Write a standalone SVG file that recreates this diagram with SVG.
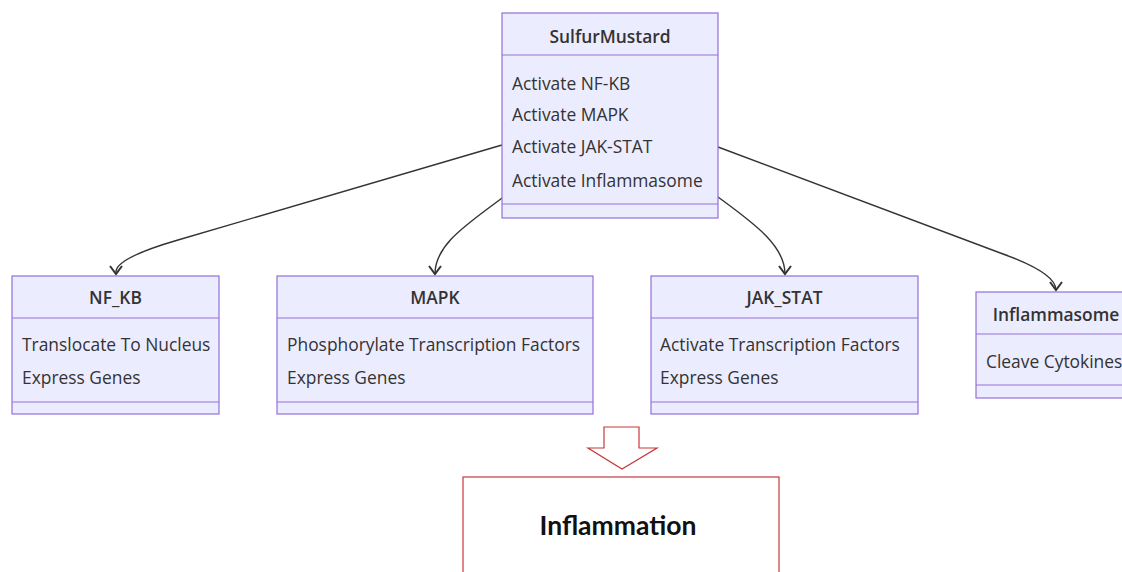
<svg xmlns="http://www.w3.org/2000/svg" width="1122" height="572" viewBox="0 0 1122 572">
<style>
.box{fill:#ECECFF;stroke:#9370DB;stroke-width:1.2}
.div{stroke:#9370DB;stroke-width:1.2;fill:none}
.t{font-family:"Open Sans","DejaVu Sans",sans-serif;font-size:17.4px;fill:#333}
.title{font-weight:600;text-anchor:middle}
.edge{fill:none;stroke:#333;stroke-width:1.4}
.red{fill:#fff;stroke:#C8373A;stroke-width:1.2}
</style>
<rect width="1122" height="572" fill="#fff"/>
<g id="connectors">
<path class="edge" d="M502,145 L178,240 Q116,258 116,272"/>
<path class="edge" d="M502,198 C468,224 435,244 435,274"/>
<path class="edge" d="M718,197 C752,222 785,245 785,274"/>
<path class="edge" d="M718,147 L1003,254 Q1056,273 1056,290"/>
<path d="M110,266 L116,274 L122,266 M429,266 L435,274 L441,266 M779,266 L785,274 L791,266 M1050,282 L1056,290 L1062,282" fill="none" stroke="#333" stroke-width="2"/>
</g>
<g id="SulfurMustard">
<rect class="box" x="502" y="13" width="216" height="205"/>
<line class="div" x1="502" y1="55" x2="718" y2="55"/>
<line class="div" x1="502" y1="204" x2="718" y2="204"/>
<text class="t title" x="610" y="43">SulfurMustard</text>
<text class="t" x="512" y="90">Activate NF-KB</text>
<text class="t" x="512" y="121">Activate MAPK</text>
<text class="t" x="512" y="153">Activate JAK-STAT</text>
<text class="t" x="512" y="187">Activate Inflammasome</text>
</g>
<g id="NF_KB">
<rect class="box" x="12" y="276" width="207" height="138"/>
<line class="div" x1="12" y1="318" x2="219" y2="318"/>
<line class="div" x1="12" y1="402" x2="219" y2="402"/>
<text class="t title" x="115.5" y="304">NF_KB</text>
<text class="t" x="22" y="351">Translocate To Nucleus</text>
<text class="t" x="22" y="384">Express Genes</text>
</g>
<g id="MAPK">
<rect class="box" x="277" y="276" width="316" height="138"/>
<line class="div" x1="277" y1="318" x2="593" y2="318"/>
<line class="div" x1="277" y1="402" x2="593" y2="402"/>
<text class="t title" x="435" y="304">MAPK</text>
<text class="t" x="287" y="351">Phosphorylate Transcription Factors</text>
<text class="t" x="287" y="384">Express Genes</text>
</g>
<g id="JAK_STAT">
<rect class="box" x="651" y="276" width="267" height="138"/>
<line class="div" x1="651" y1="318" x2="918" y2="318"/>
<line class="div" x1="651" y1="402" x2="918" y2="402"/>
<text class="t title" x="784.5" y="304">JAK_STAT</text>
<text class="t" x="660" y="351">Activate Transcription Factors</text>
<text class="t" x="660" y="384">Express Genes</text>
</g>
<g id="Inflammasome">
<rect class="box" x="976" y="292" width="170" height="106"/>
<line class="div" x1="976" y1="334" x2="1146" y2="334"/>
<line class="div" x1="976" y1="385" x2="1146" y2="385"/>
<text class="t title" x="1056" y="321">Inflammasome</text>
<text class="t" x="986" y="368">Cleave Cytokines</text>
</g>
<g id="arrow">
<path class="red" d="M604,427 L639,427 L639,448 L657,448 L622,469 L588,448 L604,448 Z"/>
</g>
<g id="Inflammation">
<rect class="red" x="463" y="477" width="316" height="110"/>
<text x="618" y="535" text-anchor="middle" style="font-family:Lato,'Liberation Sans',sans-serif;font-weight:bold;font-size:26.5px;fill:#111">Inflammation</text>
</g>
</svg>
